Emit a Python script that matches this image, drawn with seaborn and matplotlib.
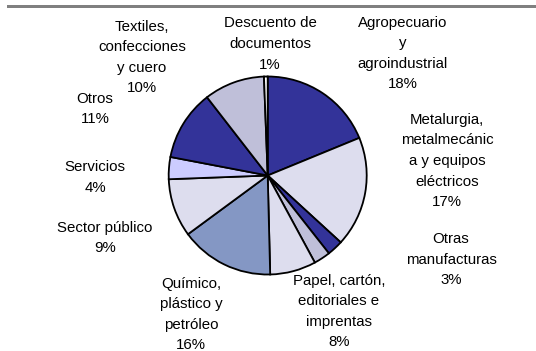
import matplotlib
matplotlib.use("Agg")
import matplotlib.pyplot as plt
import seaborn as sns
from matplotlib.patches import Rectangle

sns.set_theme(style="white")
plt.rcParams['font.family'] = ['Liberation Sans', 'DejaVu Sans']

# ---- data ----
categories = [
    "Agropecuario\ny\nagroindustrial",
    "Metalurgia,\nmetalmecánic\na y equipos\neléctricos",
    "Otras\nmanufacturas",
    "",
    "Papel, cartón,\neditoriales e\nimprentas",
    "Químico,\nplástico y\npetróleo",
    "Sector público",
    "Servicios",
    "Otros",
    "Textiles,\nconfecciones\ny cuero",
    "Descuento de\ndocumentos",
]
shares = [18.8, 18.0, 2.6, 2.7, 7.5, 15.3, 9.5, 3.6, 11.5, 9.9, 0.6]
pct_labels = ["18%", "17%", "3%", "", "8%", "16%", "9%", "4%", "11%", "10%", "1%"]

# ---- style / layout ----
dark = '#333399'
light = '#DDDDEE'
lavgray = '#BFBFD9'
steel = '#8497C4'
peri = '#CCCCFF'
colors = [dark, light, dark, lavgray, light, steel, light, peri, dark, lavgray, '#FFFFFF']
label_pos = [(403, 53.5), (447, 161), (451, 259.5), None, (339, 311.5),
             (191, 314.5), (105, 238), (95, 177.5), (95, 109), (142, 57.5), (270, 44)]

W, H = 536, 351
fig = plt.figure(figsize=(W / 100, H / 100), dpi=100)
ax = fig.add_axes([0, 0, 1, 1])

ax.pie(shares, colors=colors, startangle=-90, counterclock=True,
       center=(267.7, 175.5), radius=99,
       wedgeprops=dict(edgecolor='black', linewidth=1.3))

ax.set_xlim(0, W)
ax.set_ylim(H, 0)
ax.set_aspect('equal', adjustable='box')
ax.axis('off')

for cat, pct, pos in zip(categories, pct_labels, label_pos):
    if pos is None:
        continue
    ax.text(pos[0], pos[1], f"{cat}\n{pct}", ha='center', va='center',
            multialignment='center', fontsize=10.8, color='black', linespacing=1.6)

ax.add_patch(Rectangle((7, 5), W - 7, 3.3, facecolor='#808080', edgecolor='none', clip_on=False))

fig.savefig("out.png", dpi=100)
